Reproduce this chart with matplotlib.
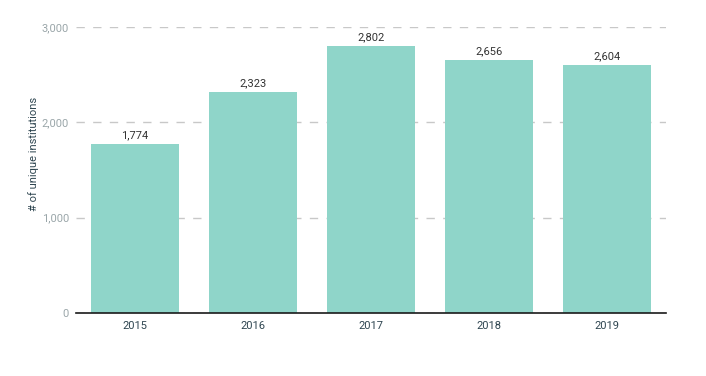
import matplotlib
matplotlib.use("Agg")
import matplotlib.pyplot as plt
from matplotlib.ticker import FuncFormatter

years = ["2015", "2016", "2017", "2018", "2019"]
counts = [1774, 2323, 2802, 2656, 2604]

plt.rcParams['font.family'] = ['Roboto', 'DejaVu Sans']

fig = plt.figure(figsize=(7.06, 3.76), dpi=100)
ax = fig.add_axes([0.1076, 0.1676, 0.8357, 0.7606])

bars = ax.bar(range(len(years)), counts, width=0.74, color='#8fd5c9', zorder=2)
for i, v in enumerate(counts):
    ax.text(i, v + 35, f"{v:,}", ha='center', va='bottom', fontsize=8, color='#333333')

ax.set_xlim(-0.5, 4.5)
ax.set_ylim(0, 3000)
ax.set_yticks([0, 1000, 2000, 3000])
ax.yaxis.set_major_formatter(FuncFormatter(lambda v, p: f"{int(v):,}"))
ax.set_xticks(range(len(years)))
ax.set_xticklabels(years)

ax.grid(axis='y', color='#c8c8c8', linestyle=(0, (6, 6)), linewidth=1, zorder=0)
for s in ['top', 'right', 'left']:
    ax.spines[s].set_visible(False)
ax.spines['bottom'].set_color('#1a1a1a')
ax.spines['bottom'].set_linewidth(1.2)
ax.spines['bottom'].set_zorder(3)

ax.tick_params(axis='y', length=0, pad=5, labelsize=8, labelcolor='#9aa6a9')
ax.tick_params(axis='x', length=0, pad=6, labelsize=8, labelcolor='#2e4550')
ax.set_ylabel("# of unique institutions", fontsize=8, color='#2e4550')
ax.yaxis.set_label_coords(-0.062, 0.556)

fig.savefig("out.png", dpi=100)
